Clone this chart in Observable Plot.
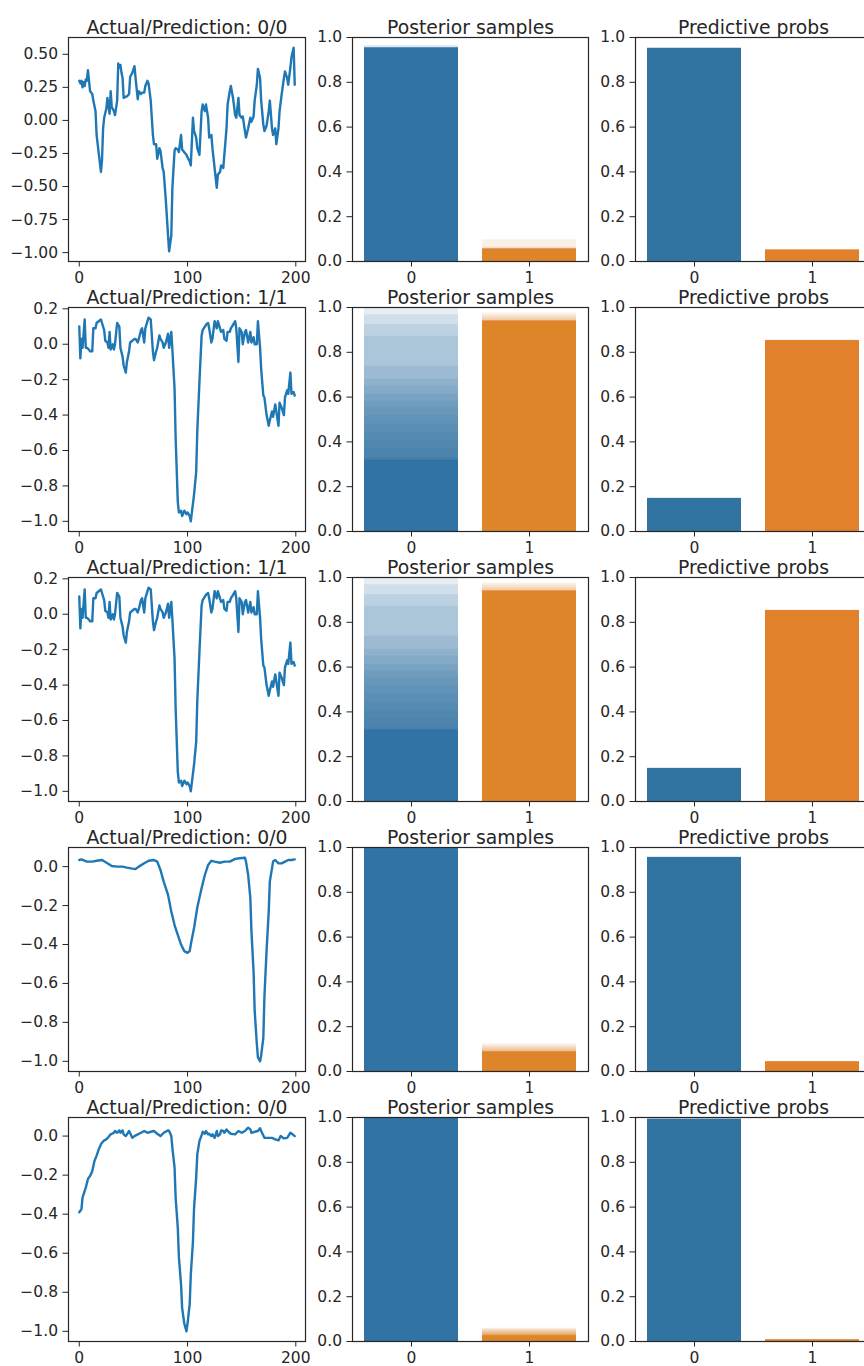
<!DOCTYPE html>
<html><head><meta charset="utf-8">
<script src="https://cdn.jsdelivr.net/npm/d3@7"></script>
<script src="https://cdn.jsdelivr.net/npm/@observablehq/plot@0.6"></script>
<style>
html,body{margin:0;padding:0;background:#fff;}
#fig{position:relative;width:864px;height:1366px;overflow:hidden;background:#fff;}
#fig svg{position:absolute;}
</style></head><body><div id="fig"></div>
<script>
// ---------- DATA ----------
const actual = [0, 1, 1, 0, 0];
const predicted = [0, 1, 1, 0, 0];
const classes = [0, 1];

// column 1: signal traces, [index, value]
const signal1 = [[0,0.30],[1,0.28],[2,0.30],[3,0.25],[4,0.29],[5,0.26],[6,0.31],[7,0.30],[8,0.38],[9,0.30],[10,0.22],[12,0.20],[13,0.15],[15,0.07],[16,-0.11],[18,-0.25],[20,-0.39],[21,-0.30],[22,-0.06],[23,0.02],[25,0.09],[26,0.17],[28,0.05],[29,0.22],[30,0.10],[32,0.07],[33,0.04],[35,0.15],[36,0.43],[37,0.40],[38,0.42],[39,0.36],[40,0.32],[41,0.17],[43,0.18],[44,0.18],[46,0.20],[47,0.33],[49,0.36],[51,0.41],[52,0.32],[54,0.16],[55,0.22],[57,0.20],[58,0.21],[60,0.21],[61,0.26],[63,0.30],[64,0.28],[66,0.15],[68,-0.11],[69,-0.18],[71,-0.18],[72,-0.29],[74,-0.21],[75,-0.23],[77,-0.36],[78,-0.39],[80,-0.61],[82,-0.87],[83,-0.99],[85,-0.87],[86,-0.51],[88,-0.23],[89,-0.21],[91,-0.22],[92,-0.24],[94,-0.11],[95,-0.22],[97,-0.24],[99,-0.26],[100,-0.28],[102,-0.31],[103,-0.34],[105,0.02],[106,-0.08],[108,-0.13],[109,-0.21],[111,-0.26],[113,0.07],[114,0.12],[116,0.07],[117,0.12],[119,0.02],[120,-0.13],[122,-0.11],[123,-0.21],[125,-0.36],[127,-0.51],[128,-0.41],[130,-0.39],[131,-0.34],[133,-0.36],[134,-0.26],[136,-0.06],[137,0.12],[139,0.22],[140,0.26],[142,0.17],[144,0.04],[145,0.02],[147,0.17],[148,0.04],[150,0.02],[151,0.03],[153,-0.08],[154,-0.13],[156,-0.06],[158,0.02],[159,-0.01],[161,0.03],[162,0.15],[164,0.27],[165,0.39],[167,0.32],[168,0.15],[170,-0.03],[171,-0.08],[173,-0.04],[175,0.07],[176,0.15],[178,-0.06],[179,-0.11],[181,-0.06],[182,-0.18],[184,-0.06],[185,0.07],[187,0.20],[189,0.32],[190,0.37],[192,0.32],[193,0.27],[195,0.40],[196,0.48],[198,0.55],[199,0.27]];
const signal2 = [[0,0.10],[1,-0.08],[2,0.03],[3,-0.02],[5,0.14],[6,-0.02],[7,-0.02],[9,-0.03],[10,-0.04],[12,-0.04],[13,0.09],[15,0.09],[16,0.12],[20,0.14],[21,0.12],[23,0.08],[24,0.02],[26,0.01],[27,-0.02],[28,0.07],[29,-0.03],[31,0.00],[32,-0.03],[33,0.00],[35,0.12],[37,0.10],[38,-0.02],[40,-0.07],[41,-0.12],[43,-0.16],[44,-0.10],[46,-0.04],[47,0.01],[49,0.02],[51,0.03],[52,0.03],[54,0.01],[55,0.03],[57,0.08],[58,0.09],[60,0.01],[61,0.09],[63,0.13],[64,0.15],[66,0.14],[68,-0.04],[69,-0.09],[71,-0.04],[72,-0.02],[74,0.05],[75,0.03],[77,0.01],[78,-0.02],[80,0.01],[82,0.06],[83,-0.02],[85,0.07],[86,-0.03],[88,-0.25],[89,-0.53],[91,-0.89],[92,-0.95],[94,-0.94],[95,-0.97],[97,-0.94],[99,-0.96],[100,-0.95],[102,-0.97],[103,-1.00],[105,-0.90],[106,-0.85],[108,-0.72],[109,-0.49],[111,-0.21],[113,0.05],[114,0.08],[116,0.10],[117,0.11],[119,0.12],[120,0.09],[122,0.01],[123,0.03],[125,0.13],[127,0.09],[128,0.13],[130,0.09],[131,0.07],[133,0.08],[134,0.03],[136,0.02],[137,0.07],[139,0.07],[140,0.09],[142,0.11],[144,0.13],[145,0.09],[147,-0.10],[148,0.09],[150,0.07],[151,0.00],[153,0.07],[154,0.08],[156,0.01],[158,0.07],[159,0.01],[161,0.04],[162,0.00],[164,0.00],[165,0.13],[167,-0.02],[168,-0.14],[170,-0.29],[171,-0.30],[173,-0.40],[175,-0.46],[176,-0.43],[178,-0.38],[179,-0.41],[181,-0.34],[182,-0.38],[184,-0.46],[185,-0.33],[187,-0.36],[189,-0.40],[190,-0.30],[192,-0.26],[193,-0.28],[195,-0.16],[196,-0.28],[198,-0.27],[199,-0.29]];
const signal3 = signal2;
const signal4 = [[0,0.034],[2,0.037],[7,0.026],[12,0.026],[16,0.030],[21,0.034],[26,0.017],[30,0.003],[35,0.000],[40,0.000],[44,-0.005],[49,-0.010],[52,-0.012],[55,0.000],[60,0.017],[64,0.030],[69,0.034],[72,0.026],[75,-0.017],[78,-0.077],[82,-0.145],[85,-0.230],[88,-0.300],[91,-0.350],[94,-0.400],[97,-0.434],[100,-0.443],[102,-0.434],[103,-0.400],[106,-0.315],[109,-0.210],[113,-0.110],[116,-0.043],[119,0.009],[122,0.030],[125,0.026],[130,0.020],[134,0.026],[139,0.026],[144,0.040],[148,0.043],[153,0.046],[154,0.026],[156,-0.043],[158,-0.160],[159,-0.330],[161,-0.540],[162,-0.740],[164,-0.910],[165,-0.980],[167,-1.000],[168,-0.970],[170,-0.880],[171,-0.670],[173,-0.430],[175,-0.230],[176,-0.077],[178,-0.009],[179,0.026],[181,0.034],[184,0.017],[187,0.017],[190,0.026],[193,0.034],[196,0.034],[199,0.037]];
const signal5 = [[0,-0.390],[2,-0.375],[3,-0.315],[6,-0.264],[8,-0.220],[10,-0.204],[12,-0.180],[14,-0.128],[16,-0.100],[18,-0.068],[20,-0.043],[21,-0.034],[23,-0.022],[25,-0.017],[27,-0.005],[29,0.009],[32,0.017],[33,0.026],[35,0.017],[37,0.029],[38,0.017],[40,0.029],[41,0.009],[43,0.000],[46,0.026],[49,-0.009],[51,0.000],[54,0.009],[57,0.017],[60,0.026],[63,0.017],[66,0.022],[69,0.026],[72,0.012],[75,0.000],[78,0.017],[82,0.029],[83,0.026],[85,0.000],[86,-0.060],[88,-0.160],[89,-0.315],[91,-0.470],[92,-0.620],[94,-0.760],[95,-0.880],[97,-0.960],[99,-1.000],[100,-0.960],[102,-0.860],[103,-0.710],[105,-0.540],[106,-0.370],[108,-0.210],[109,-0.094],[111,-0.026],[113,0.005],[114,0.022],[116,0.012],[117,0.026],[119,0.009],[120,0.012],[122,0.000],[123,0.009],[125,-0.009],[127,0.026],[128,0.000],[130,0.009],[131,0.029],[133,0.026],[134,0.017],[136,0.034],[137,0.026],[140,0.012],[144,0.009],[147,0.026],[150,0.017],[153,0.026],[156,0.043],[158,0.034],[159,0.017],[162,0.022],[165,0.026],[167,0.040],[168,0.026],[171,-0.009],[175,-0.009],[178,-0.009],[181,-0.017],[184,-0.022],[186,0.000],[189,-0.012],[192,-0.009],[195,0.017],[197,0.009],[199,0.000]];
const signals = [signal1, signal2, signal3, signal4, signal5];

// column 1 tick values / formats
const signalTicks = [
  [-1, -0.75, -0.5, -0.25, 0, 0.25, 0.5],
  [-1, -0.8, -0.6, -0.4, -0.2, 0, 0.2],
  [-1, -0.8, -0.6, -0.4, -0.2, 0, 0.2],
  [-1, -0.8, -0.6, -0.4, -0.2, 0],
  [-1, -0.8, -0.6, -0.4, -0.2, 0]
];
const signalTickFormat = [".2f", ".1f", ".1f", ".1f", ".1f"];
const indexTicks = [0, 100, 200];
const probTicks = [0, 0.2, 0.4, 0.6, 0.8, 1.0];

// column 2: posterior samples per row (class 0, class 1)
const posteriorClass0 = [
  [0.964,0.958,0.954,0.953,0.953,0.953,0.953,0.952,0.952,0.952,0.952,0.952,0.952,0.952,0.952,0.952,0.952,0.952,0.952,0.952,0.952,0.952,0.952,0.952,0.952,0.952,0.952,0.952,0.952,0.952],
  [1.0,0.967,0.923,0.871,0.738,0.679,0.649,0.612,0.582,0.553,0.516,0.479,0.441,0.404,0.367,0.330,0.326,0.322,0.320,0.318,0.317,0.316,0.316,0.315,0.315,0.315,0.314,0.314,0.313,0.313],
  [1.0,0.967,0.923,0.871,0.738,0.679,0.649,0.612,0.582,0.553,0.516,0.479,0.441,0.404,0.367,0.330,0.326,0.322,0.320,0.318,0.317,0.316,0.316,0.315,0.315,0.315,0.314,0.314,0.313,0.313],
  [1,1,1,1,1,1,1,1,1,1,1,1,1,1,1,1,1,1,1,1,1,1,1,1,1,1,1,1,1,1],
  [1,1,1,1,1,1,1,1,1,1,1,1,1,1,1,1,1,1,1,1,1,1,1,1,1,1,1,1,1,1]
];
const posteriorClass1 = [
  [0.097,0.064,0.060,0.056,0.055,0.054,0.054,0.054,0.054,0.054,0.054,0.054,0.054,0.054,0.054,0.054,0.054,0.054,0.054,0.054,0.054,0.054,0.054,0.054,0.054,0.054,0.054,0.054,0.054,0.054],
  [0.975,0.965,0.955,0.947,0.942,0.940,0.939,0.938,0.938,0.938,0.938,0.938,0.938,0.938,0.938,0.938,0.938,0.938,0.938,0.938,0.938,0.938,0.938,0.938,0.938,0.938,0.938,0.938,0.938,0.938],
  [0.975,0.965,0.955,0.947,0.942,0.940,0.939,0.938,0.938,0.938,0.938,0.938,0.938,0.938,0.938,0.938,0.938,0.938,0.938,0.938,0.938,0.938,0.938,0.938,0.938,0.938,0.938,0.938,0.938,0.938],
  [0.123,0.115,0.108,0.100,0.095,0.090,0.088,0.086,0.086,0.086,0.086,0.086,0.086,0.086,0.086,0.086,0.086,0.086,0.086,0.086,0.086,0.086,0.086,0.086,0.086,0.086,0.086,0.086,0.086,0.086],
  [0.059,0.055,0.050,0.046,0.042,0.038,0.035,0.032,0.030,0.028,0.026,0.025,0.024,0.024,0.024,0.024,0.024,0.024,0.024,0.024,0.024,0.024,0.024,0.024,0.024,0.024,0.024,0.024,0.024,0.024]
];

// column 3: predictive probabilities per row
const predictiveClass0 = [0.952, 0.148, 0.148, 0.956, 0.993];
const predictiveClass1 = [0.052, 0.853, 0.853, 0.044, 0.008];

// ---------- LAYOUT / STYLE ----------
const COLORS = ["#3274a1", "#e1812c"];
const LINE_COLOR = "#1f77b4";
const AX_TOP0 = 37, ROW_STEP = 270, AX_H = 224;
const COL_LEFT = [68, 352, 635], COL_W = [237, 236, 236];
const M = {left: 62, right: 12, top: 44, bottom: 36};
const fig = document.getElementById("fig");

function common(c) {
  return {
    width: M.left + COL_W[c] + M.right,
    height: M.top + AX_H + M.bottom,
    marginLeft: M.left, marginRight: M.right, marginTop: M.top, marginBottom: M.bottom,
    style: {fontFamily: "'DejaVu Sans', sans-serif", fontSize: "15.5px", color: "#262626", background: "transparent", overflow: "visible"}
  };
}
function place(svg, c, r) {
  svg.style.left = (COL_LEFT[c] - M.left) + "px";
  svg.style.top = (AX_TOP0 + r * ROW_STEP - M.top) + "px";
  fig.appendChild(svg);
}
function titleMark(t) {
  return Plot.text([t], {text: d => d, frameAnchor: "top", dy: -17, fontSize: 18.8, fill: "#262626"});
}
const axisOpts = {tickSize: 5.5, tickPadding: 5, label: null};
const pad = ([a, b]) => [a - 0.05 * (b - a), b + 0.05 * (b - a)];

for (let r = 0; r < 5; r++) {
  // column 1: signal
  const pts = signals[r].map(([x, y]) => ({x, y}));
  const xd = pad(d3.extent(pts, d => d.x));
  const yd = pad(d3.extent(pts, d => d.y));
  place(Plot.plot({
    ...common(0),
    x: {...axisOpts, domain: xd, ticks: indexTicks, tickFormat: d3.format("d")},
    y: {...axisOpts, domain: yd, ticks: signalTicks[r], tickFormat: d3.format(signalTickFormat[r])},
    marks: [
      Plot.line(pts, {x: "x", y: "y", stroke: LINE_COLOR, strokeWidth: 2.4, strokeLinejoin: "round"}),
      Plot.frame({stroke: "#262626", strokeWidth: 1.2}),
      titleMark(`Actual/Prediction: ${actual[r]}/${predicted[r]}`)
    ]
  }), 0, r);

  // column 2: posterior samples
  const samples = [
    ...posteriorClass0[r].map(p => ({cls: classes[0], p})),
    ...posteriorClass1[r].map(p => ({cls: classes[1], p}))
  ];
  place(Plot.plot({
    ...common(1),
    x: {...axisOpts, type: "band", domain: classes, paddingInner: 0.2, paddingOuter: 0.1},
    y: {...axisOpts, domain: [0, 1], ticks: probTicks, tickFormat: d3.format(".1f")},
    marks: [
      Plot.barY(samples, {x: "cls", y1: () => 0, y2: "p", fill: d => COLORS[d.cls], fillOpacity: 0.12}),
      Plot.frame({stroke: "#262626", strokeWidth: 1.2}),
      titleMark("Posterior samples")
    ]
  }), 1, r);

  // column 3: predictive probs
  const probs = [
    {cls: classes[0], p: predictiveClass0[r]},
    {cls: classes[1], p: predictiveClass1[r]}
  ];
  place(Plot.plot({
    ...common(2),
    x: {...axisOpts, type: "band", domain: classes, paddingInner: 0.2, paddingOuter: 0.1},
    y: {...axisOpts, domain: [0, 1], ticks: probTicks, tickFormat: d3.format(".1f")},
    marks: [
      Plot.barY(probs, {x: "cls", y1: () => 0, y2: "p", fill: d => COLORS[d.cls]}),
      Plot.frame({stroke: "#262626", strokeWidth: 1.2}),
      titleMark("Predictive probs")
    ]
  }), 2, r);
}
</script></body></html>
